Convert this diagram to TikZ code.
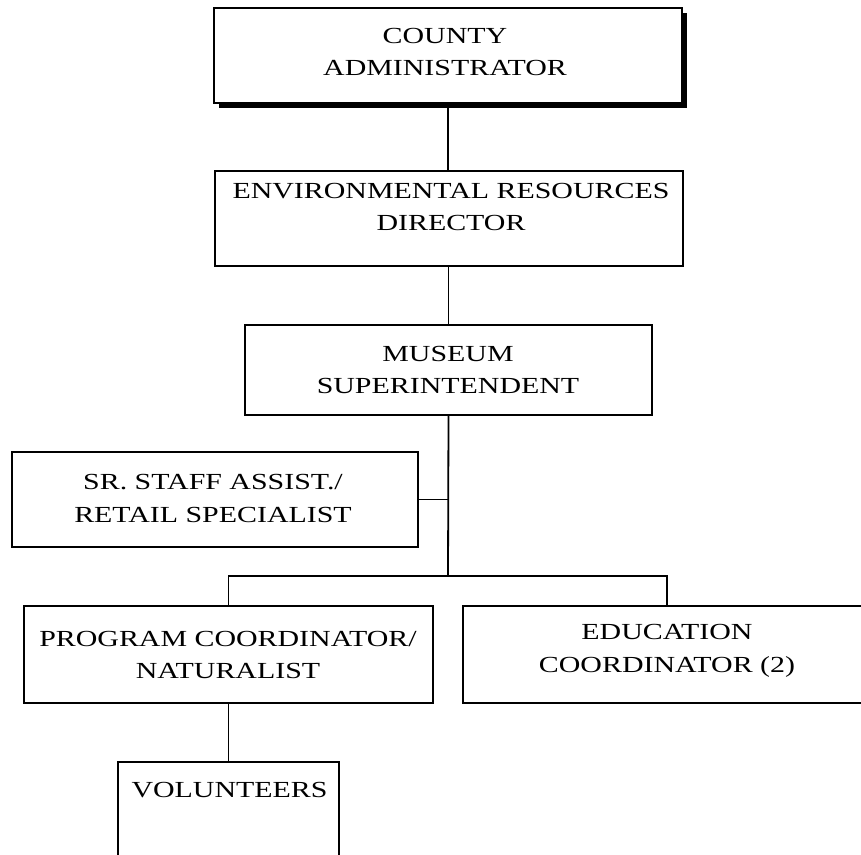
\documentclass[tikz,border=0pt]{standalone}
\usepackage{fontspec}
\setmainfont{Liberation Serif}[FakeStretch=1.3]
\usetikzlibrary{shadows}
\begin{document}
\begin{tikzpicture}[x=1pt,y=-1pt,
  box/.style={draw=black, line width=1.8pt, fill=white, inner sep=0pt},
  shadowbox/.style={box, drop shadow={shadow xshift=5pt, shadow yshift=-5pt, fill=black, opacity=1}},
  lbl/.style={align=center, inner sep=0pt, font=\fontsize{23}{32.5}\selectfont},
  link/.style={draw=black, line width=1.8pt}]
\clip (0,0) rectangle (861,854);
\fill[white] (0,0) rectangle (861,854);

% boxes
\node[shadowbox, minimum width=468pt, minimum height=95pt] (ca) at (448,55.5) {};
\node[box, minimum width=468pt, minimum height=95pt] (env) at (449,218.5) {};
\node[box, minimum width=407pt, minimum height=90pt] (mus) at (448.5,370) {};
\node[box, minimum width=406pt, minimum height=95pt] (sr) at (215,499.5) {};
\node[box, minimum width=409pt, minimum height=97pt] (prog) at (228.5,654.5) {};
\node[box, minimum width=408pt, minimum height=97pt] (edu) at (667,654.5) {};
\node[box, minimum width=221pt, minimum height=160pt] (vol) at (228.5,842) {};

% labels
\node[lbl] (ca-t) at (445,52) {COUNTY\\ADMINISTRATOR};
\node[lbl] (env-t) at (451,207) {ENVIRONMENTAL RESOURCES\\DIRECTOR};
\node[lbl] (mus-t) at (448,370) {MUSEUM\\SUPERINTENDENT};
\node[lbl] (sr-t) at (213,498.5) {SR. STAFF ASSIST./\\RETAIL SPECIALIST};
\node[lbl] (prog-t) at (228,655) {PROGRAM COORDINATOR/\\NATURALIST};
\node[lbl] (edu-t) at (667,651) {EDUCATION\\COORDINATOR (2)};
\node[lbl] (vol-t) at (229.5,790) {VOLUNTEERS};

% connectors
\coordinate (j) at (448,576);
\draw[link] (ca.south) -- (ca.south |- env.north);
\draw[link] (env.south -| mus.north) -- (mus.north);
\draw[link] (mus.south) -- (j);
\draw[link] (sr.east) -- (sr.east -| mus.south);
\draw[link] (prog.north) |- (j) -| (edu.north);
\draw[link] (prog.south) -- (prog.south |- vol.north);
\end{tikzpicture}
\end{document}
